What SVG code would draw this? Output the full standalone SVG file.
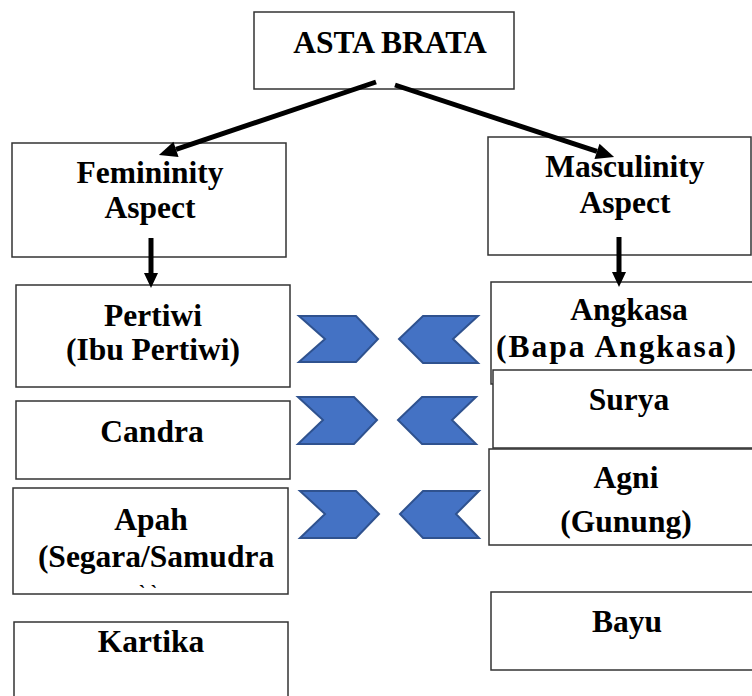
<svg xmlns="http://www.w3.org/2000/svg" width="752" height="696" viewBox="0 0 752 696">
  <defs>
    <style>
      .box { fill: #ffffff; stroke: #333333; stroke-width: 1.5; }
      .t { font-family: 'Liberation Serif', 'DejaVu Serif', 'Times New Roman', serif; font-weight: 700; font-size: 31.5px; fill: #000000; text-anchor: middle; }
      .conn { stroke: #000000; stroke-width: 5; fill: none; }
      .chev { fill: #4472C4; stroke: #2F528F; stroke-width: 2; stroke-linejoin: miter; }
    </style>
    <marker id="ah" markerUnits="userSpaceOnUse" markerWidth="18" markerHeight="16" refX="0" refY="8" orient="auto" overflow="visible">
      <path d="M0,0 L18,8 L0,16 z" fill="#000000"/>
    </marker>
    <marker id="ahv" markerUnits="userSpaceOnUse" markerWidth="15" markerHeight="14" refX="0" refY="7" orient="auto" overflow="visible">
      <path d="M0,0 L15,7 L0,14 z" fill="#000000"/>
    </marker>
  </defs>
  <rect x="0" y="0" width="752" height="696" fill="#ffffff"/>

  <g id="node-asta-brata">
    <rect class="box" x="254" y="12" width="260" height="77"/>
    <text class="t" font-family="Liberation Serif, serif" x="390" y="53">ASTA BRATA</text>
  </g>

  <g id="node-femininity">
    <rect class="box" x="12" y="143" width="274" height="114"/>
    <text class="t" font-family="Liberation Serif, serif" x="150" y="183">Femininity</text>
    <text class="t" font-family="Liberation Serif, serif" x="150" y="218">Aspect</text>
  </g>

  <g id="node-masculinity">
    <rect class="box" x="488" y="137" width="263" height="118"/>
    <text class="t" font-family="Liberation Serif, serif" x="625" y="177">Masculinity</text>
    <text class="t" font-family="Liberation Serif, serif" x="625" y="213">Aspect</text>
  </g>

  <g id="node-pertiwi">
    <rect class="box" x="16" y="285" width="274" height="102"/>
    <text class="t" font-family="Liberation Serif, serif" x="153" y="326">Pertiwi</text>
    <text class="t" font-family="Liberation Serif, serif" x="153" y="360">(Ibu Pertiwi)</text>
  </g>

  <g id="node-candra">
    <rect class="box" x="16" y="401" width="274" height="78"/>
    <text class="t" font-family="Liberation Serif, serif" x="152" y="442">Candra</text>
  </g>

  <g id="node-apah">
    <rect class="box" x="13" y="488" width="275" height="106"/>
    <text class="t" font-family="Liberation Serif, serif" x="151" y="530">Apah</text>
    <text class="t" font-family="Liberation Serif, serif" x="156" y="567">(Segara/Samudra</text>
    <text class="t" font-family="Liberation Serif, serif" x="148" y="600" style="font-size:20px">` `</text>
  </g>

  <g id="node-kartika">
    <rect class="box" x="14" y="622" width="274" height="80"/>
    <text class="t" font-family="Liberation Serif, serif" x="151" y="652">Kartika</text>
  </g>

  <g id="node-angkasa">
    <rect class="box" x="491" y="282" width="265" height="102"/>
    <text class="t" font-family="Liberation Serif, serif" x="629" y="320">Angkasa</text>
    <text class="t" font-family="Liberation Serif, serif" x="616" y="357" textLength="240" lengthAdjust="spacing">(Bapa Angkasa)</text>
  </g>

  <g id="node-surya">
    <rect class="box" x="493" y="370" width="263" height="78"/>
    <text class="t" font-family="Liberation Serif, serif" x="629" y="410">Surya</text>
  </g>

  <g id="node-agni">
    <rect class="box" x="489" y="449" width="267" height="96"/>
    <text class="t" font-family="Liberation Serif, serif" x="626" y="488">Agni</text>
    <text class="t" font-family="Liberation Serif, serif" x="626" y="532">(Gunung)</text>
  </g>

  <g id="node-bayu">
    <rect class="box" x="491" y="592" width="265" height="78"/>
    <text class="t" font-family="Liberation Serif, serif" x="627" y="632">Bayu</text>
  </g>

  <g id="chevrons">
    <polygon class="chev" points="299,316 356,316 378,339 356,362 299,362 325,339"/>
    <polygon class="chev" points="423,316 478,316 453,339 478,363 423,363 399,339"/>
    <polygon class="chev" points="298,397 354,397 377,420 354,444 298,444 323,420"/>
    <polygon class="chev" points="422,397 476,397 452,420 476,444 422,444 398,420"/>
    <polygon class="chev" points="300,491 356,491 379,514 356,538 300,538 325,514"/>
    <polygon class="chev" points="423,491 479,491 456,514 479,538 423,538 400,514"/>
  </g>

  <g id="connectors">
    <line class="conn" x1="376" y1="82" x2="176" y2="149.3" marker-end="url(#ah)"/>
    <line class="conn" x1="395" y1="85" x2="597" y2="151.4" marker-end="url(#ah)"/>
    <line class="conn" x1="151" y1="238" x2="151" y2="273" marker-end="url(#ahv)"/>
    <line class="conn" x1="619" y1="237" x2="619" y2="272" marker-end="url(#ahv)"/>
  </g>
</svg>
